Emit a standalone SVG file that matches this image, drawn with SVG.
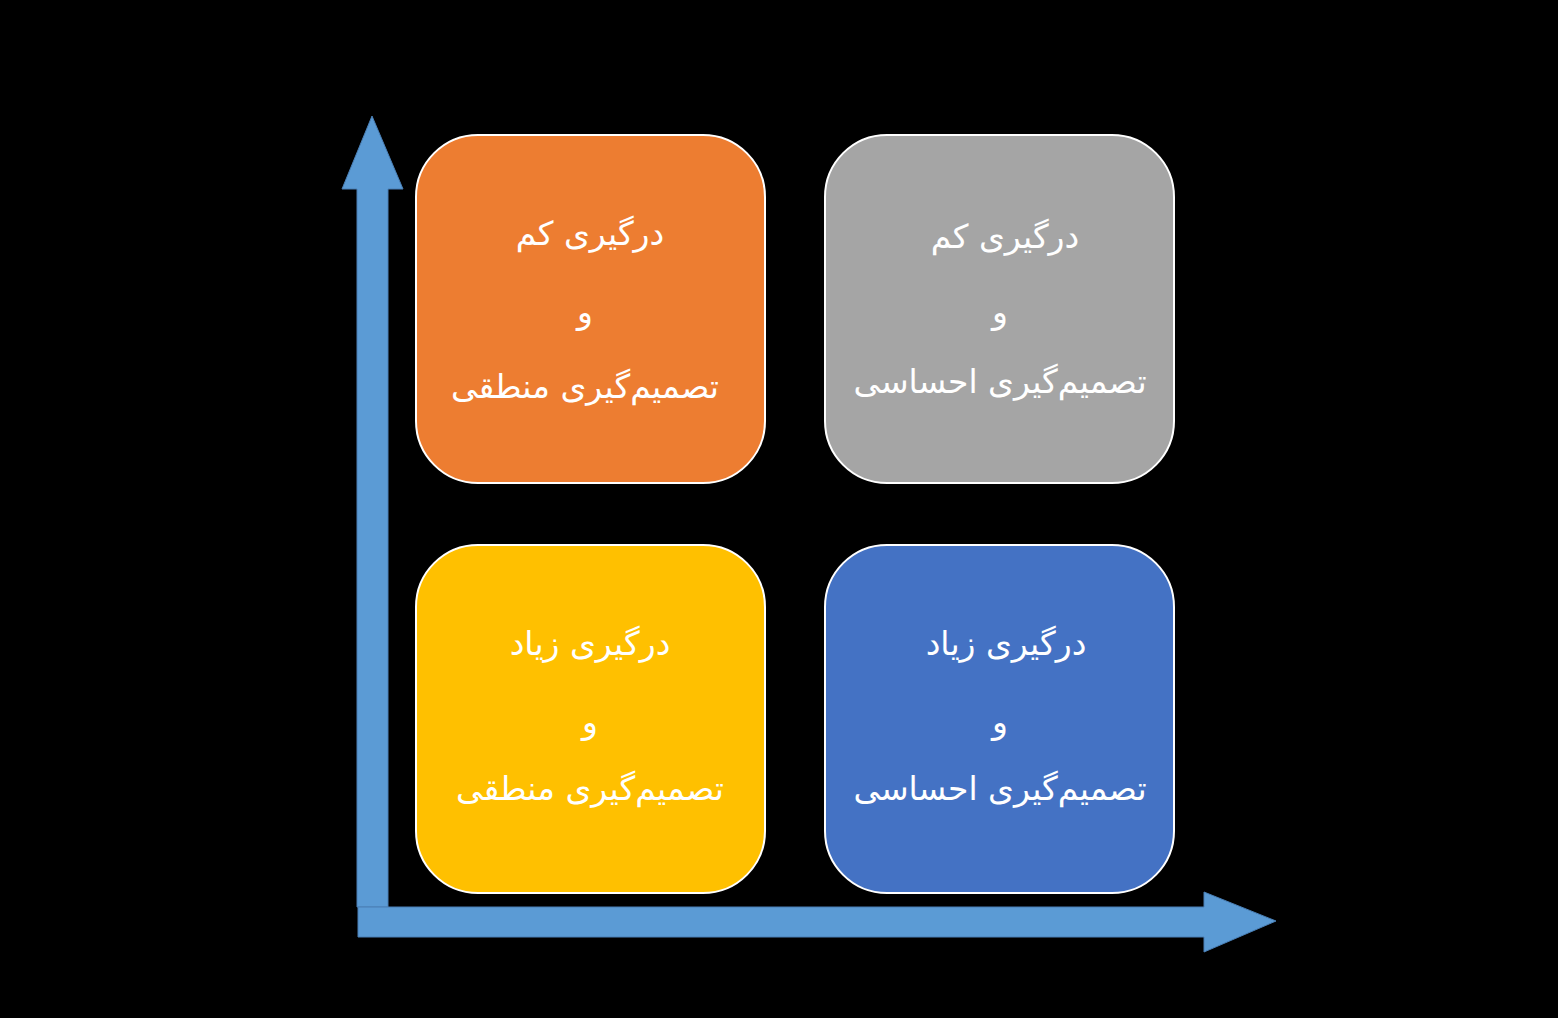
<svg xmlns="http://www.w3.org/2000/svg" width="1558" height="1018" viewBox="0 0 1558 1018">
<style>
.box{stroke:#FFFFFF;stroke-width:2}
.t{font-family:"DejaVu Sans","Noto Sans",sans-serif;font-size:33px;fill:#FFFFFF;text-anchor:middle}
.ax{fill:#5B9BD5;stroke:#4A7FB5;stroke-width:1}
</style>
<rect width="1558" height="1018" fill="#000000"/>
<g id="connectors">
<path id="y-axis" class="ax" d="M357,907 L357,189 L342,189 L372,116 L403,189 L388,189 L388,907 Z"/>
<path id="x-axis" class="ax" d="M358,907 L1204,907 L1204,892 L1276,921 L1204,952 L1204,937 L358,937 Z"/>
</g>
<g id="node-orange">
<rect class="box" x="416" y="135" width="349" height="348" rx="62" fill="#ED7D31"/>
<text class="t" direction="rtl" x="590" y="245">درگیری کم</text>
<text class="t" direction="rtl" x="585" y="323">و</text>
<text class="t" direction="rtl" x="585" y="398">تصمیم&#8204;گیری منطقی</text>
</g>
<g id="node-gray">
<rect class="box" x="825" y="135" width="349" height="348" rx="62" fill="#A5A5A5"/>
<text class="t" direction="rtl" x="1005" y="248">درگیری کم</text>
<text class="t" direction="rtl" x="1000" y="323">و</text>
<text class="t" direction="rtl" x="1000" y="393">تصمیم&#8204;گیری احساسی</text>
</g>
<g id="node-yellow">
<rect class="box" x="416" y="545" width="349" height="348" rx="62" fill="#FFC000"/>
<text class="t" direction="rtl" x="590" y="655">درگیری زیاد</text>
<text class="t" direction="rtl" x="590" y="733">و</text>
<text class="t" direction="rtl" x="590" y="800">تصمیم&#8204;گیری منطقی</text>
</g>
<g id="node-blue">
<rect class="box" x="825" y="545" width="349" height="348" rx="62" fill="#4472C4"/>
<text class="t" direction="rtl" x="1006" y="655">درگیری زیاد</text>
<text class="t" direction="rtl" x="1000" y="733">و</text>
<text class="t" direction="rtl" x="1000" y="800">تصمیم&#8204;گیری احساسی</text>
</g>
</svg>
